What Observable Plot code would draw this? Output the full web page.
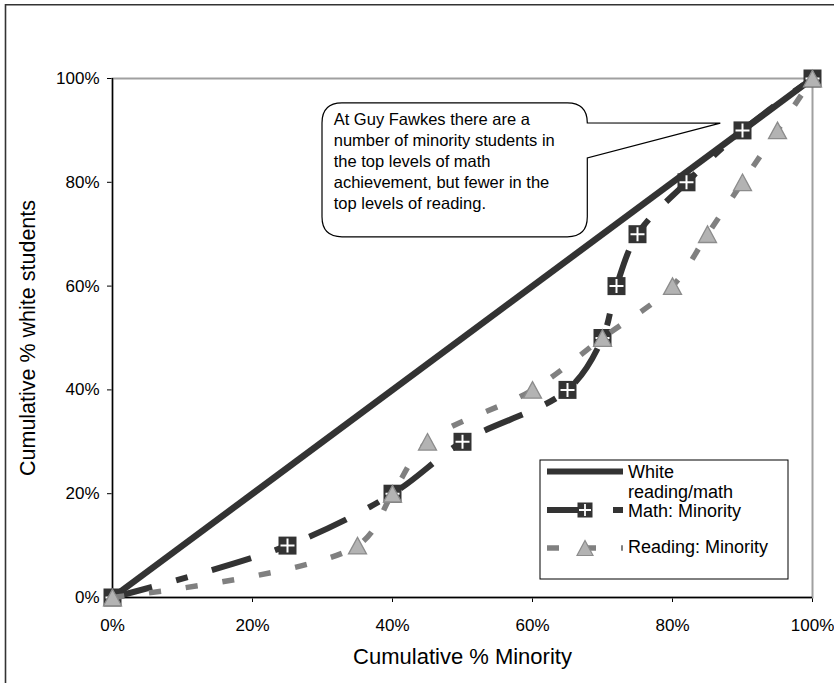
<!DOCTYPE html>
<html>
<head>
<meta charset="utf-8">
<script src="https://cdn.jsdelivr.net/npm/d3@7"></script>
<script src="https://cdn.jsdelivr.net/npm/@observablehq/plot@0.6"></script>
<style>
  html, body { margin: 0; padding: 0; background: #fff; }
  #chart svg { display: block; }
</style>
</head>
<body>
<div id="chart"></div>
<script>
// ---- data ----
const xTicks = [0, 20, 40, 60, 80, 100];
const yTicks = [0, 20, 40, 60, 80, 100];
const whiteX = [0, 100];
const whiteY = [0, 100];
const mathX = [0, 25, 40, 50, 65, 70, 72, 75, 82, 90, 100];
const mathY = [0, 10, 20, 30, 40, 50, 60, 70, 80, 90, 100];
const readX = [0, 35, 40, 45, 60, 70, 80, 85, 90, 95, 100];
const readY = [0, 10, 20, 30, 40, 50, 60, 70, 80, 90, 100];
const seriesNames = ["White\nreading/math", "Math: Minority", "Reading: Minority"];
const xTitle = "Cumulative % Minority";
const yTitle = "Cumulative % white students";
const calloutText = "At Guy Fawkes there are a\nnumber of minority students in\nthe top levels of math\nachievement, but fewer in the\ntop levels of reading.";

// ---- annotation placement (data units) ----
const callout = { tipX: 86.9, tipY: 91.3, left: 30, right: 67.9, top: 95.2, bottom: 69.4, textX: 31.6, textY: 93.9 };

// ---- styles ----
const DARK = "#333333", GRAY = "#808080";
const FONT = "'Liberation Sans', Arial, Helvetica, sans-serif";
const mathDash = "41,25,12,25";
const readDash = "12,25";

const whiteData = whiteX.map((x, i) => ({x, y: whiteY[i]}));
const mathData = mathX.map((x, i) => ({x, y: mathY[i]}));
const readData = readX.map((x, i) => ({x, y: readY[i]}));

const squareSym = {draw(ctx, size) { const r = Math.sqrt(size / Math.PI); ctx.rect(-r, -r, 2 * r, 2 * r); }};
const crossSym = {draw(ctx, size) { const r = Math.sqrt(size / Math.PI); ctx.moveTo(-r, 0); ctx.lineTo(r, 0); ctx.moveTo(0, -r); ctx.lineTo(0, r); }};
const triSym = {draw(ctx, size) { const r = Math.sqrt(size / Math.PI); ctx.moveTo(0, -0.92 * r); ctx.lineTo(r, 0.92 * r); ctx.lineTo(-r, 0.92 * r); ctx.closePath(); }};

function bubbleMark(index, scales, values, dims) {
  const X = scales.x, Y = scales.y;
  const L = X(callout.left), R = X(callout.right), T = Y(callout.top), B = Y(callout.bottom);
  const tx = X(callout.tipX), ty = Y(callout.tipY);
  const r = 20;
  const p = d3.path();
  p.moveTo(L + r, T);
  p.lineTo(R - r, T);
  p.quadraticCurveTo(R, T, R, T + r);
  p.lineTo(tx, ty);
  p.lineTo(R, T + r + 35);
  p.lineTo(R, B - r);
  p.quadraticCurveTo(R, B, R - r, B);
  p.lineTo(L + r, B);
  p.quadraticCurveTo(L, B, L, B - r);
  p.lineTo(L, T + r);
  p.quadraticCurveTo(L, T, L + r, T);
  p.closePath();
  const g = d3.create("svg:g");
  g.append("path").attr("d", p.toString()).attr("fill", "#fff").attr("stroke", "#000").attr("stroke-width", 1.2);
  return g.node();
}

function legendMark(index, scales, values, dims) {
  const x1 = dims.width - dims.marginRight - 24, x0 = x1 - 248;
  const y1 = dims.height - dims.marginBottom - 18, y0 = y1 - 119;
  const g = d3.create("svg:g").attr("font-family", FONT).attr("font-size", 18).attr("text-anchor", "start").attr("fill", "#000");
  g.append("rect").attr("x", x0).attr("y", y0).attr("width", x1 - x0).attr("height", y1 - y0)
    .attr("fill", "#fff").attr("stroke", "#000").attr("stroke-width", 1);
  const sx0 = x0 + 7, sx1 = x0 + 83, sm = x0 + 45, tx = x0 + 88;
  // White
  let ly = y0 + 11.5;
  g.append("line").attr("x1", sx0).attr("x2", sx1).attr("y1", ly).attr("y2", ly)
    .attr("stroke", DARK).attr("stroke-width", 6);
  const lines = seriesNames[0].split("\n");
  g.append("text").attr("x", tx).attr("y", y0 + 18).text(lines[0]);
  g.append("text").attr("x", tx).attr("y", y0 + 38).text(lines[1]);
  // Math
  ly = y0 + 50;
  g.append("line").attr("x1", sx0).attr("x2", sx1).attr("y1", ly).attr("y2", ly)
    .attr("stroke", DARK).attr("stroke-width", 6).attr("stroke-dasharray", mathDash);
  g.append("rect").attr("x", sm - 7.5).attr("y", ly - 7.5).attr("width", 15).attr("height", 15).attr("fill", DARK);
  g.append("path").attr("d", `M${sm - 6},${ly}H${sm + 6}M${sm},${ly - 6}V${ly + 6}`).attr("stroke", "#fff").attr("stroke-width", 1.8);
  g.append("text").attr("x", tx).attr("y", y0 + 57).text(seriesNames[1]);
  // Reading
  ly = y0 + 88;
  g.append("line").attr("x1", sx0).attr("x2", sx1).attr("y1", ly).attr("y2", ly)
    .attr("stroke", GRAY).attr("stroke-width", 5.5).attr("stroke-dasharray", readDash);
  g.append("path").attr("d", `M${sm},${ly - 7.5}L${sm + 8},${ly + 7.5}L${sm - 8},${ly + 7.5}Z`)
    .attr("fill", "#b3b3b3").attr("stroke", "#8c8c8c").attr("stroke-width", 1.2);
  g.append("text").attr("x", tx).attr("y", y0 + 93).text(seriesNames[2]);
  return g.node();
}

function borderMark(index, scales, values, dims) {
  const g = d3.create("svg:g");
  g.append("path").attr("d", `M5.5,${dims.height}V4.8H${dims.width}`).attr("fill", "none")
    .attr("stroke", "#333").attr("stroke-width", 1.6);
  return g.node();
}

const chart = Plot.plot({
  width: 834,
  height: 683,
  marginLeft: 112,
  marginRight: 22,
  marginTop: 78,
  marginBottom: 86,
  style: { fontFamily: FONT, fontSize: "17px", color: "#000", background: "#fff", overflow: "visible" },
  x: { domain: [0, 100], ticks: xTicks, tickFormat: d => d + "%", tickSize: 5, tickPadding: 16, label: null },
  y: { domain: [0, 100], ticks: yTicks, tickFormat: d => d + "%", tickSize: 5, tickPadding: 8, label: null },
  marks: [
    Plot.frame({ stroke: "#a0a0a0", strokeWidth: 2 }),
    Plot.ruleX([0], { stroke: "#000", strokeWidth: 1.4 }),
    Plot.ruleY([0], { stroke: "#000", strokeWidth: 1.4 }),
    Plot.line(whiteData, { x: "x", y: "y", stroke: DARK, strokeWidth: 6.5, strokeLinecap: "butt" }),
    Plot.line(mathData, { x: "x", y: "y", curve: "catmull-rom", stroke: DARK, strokeWidth: 6, strokeDasharray: mathDash, strokeLinecap: "butt" }),
    Plot.dot(mathData, { x: "x", y: "y", symbol: squareSym, r: 9, fill: DARK, stroke: "none" }),
    Plot.dot(mathData, { x: "x", y: "y", symbol: crossSym, r: 7, fill: "none", stroke: "#fff", strokeWidth: 2 }),
    Plot.line(readData, { x: "x", y: "y", curve: "catmull-rom", stroke: GRAY, strokeWidth: 5.5, strokeDasharray: readDash, strokeLinecap: "butt" }),
    Plot.dot(readData, { x: "x", y: "y", symbol: triSym, r: 9, fill: "#b3b3b3", stroke: "#8c8c8c", strokeWidth: 1.3 }),
    bubbleMark,
    Plot.text([calloutText], { x: () => callout.textX, y: () => callout.textY, text: d => d, textAnchor: "start", lineAnchor: "top", fontSize: 16.5, lineHeight: 21 / 16.5, fill: "#000" }),
    legendMark,
    Plot.text([xTitle], { frameAnchor: "bottom", dy: 59, text: d => d, textAnchor: "middle", lineAnchor: "middle", fontSize: 22, fill: "#000" }),
    Plot.text([yTitle], { frameAnchor: "left", dx: -84, rotate: -90, text: d => d, textAnchor: "middle", lineAnchor: "middle", fontSize: 21.5, fill: "#000" }),
    borderMark
  ]
});
document.getElementById("chart").appendChild(chart);
</script>
</body>
</html>
